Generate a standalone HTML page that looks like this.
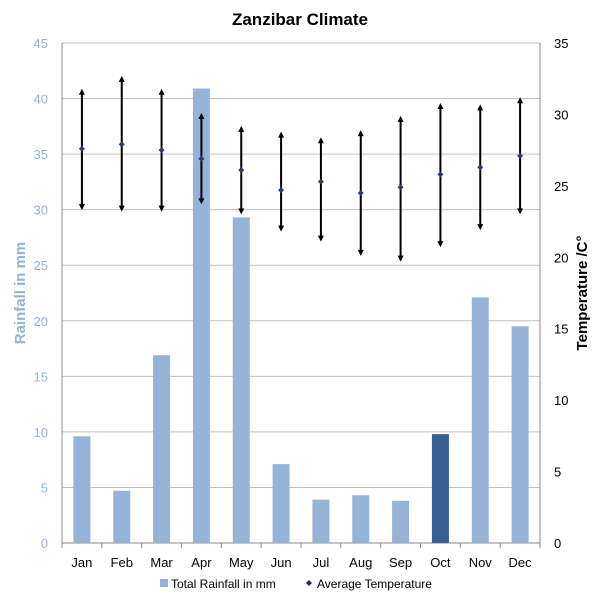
<!DOCTYPE html>
<html><head><meta charset="utf-8"><style>
body{margin:0;background:#fff;font-family:"Liberation Sans",sans-serif}
svg text{font-family:"Liberation Sans",sans-serif}
</style></head><body>
<svg id="c" width="600" height="600" viewBox="0 0 600 600">
<text x="300" y="25" text-anchor="middle" font-size="17" font-weight="bold">Zanzibar Climate</text>
<g id="grid"></g><g id="bars"></g><g id="temps"></g><g id="axes"></g>
<text transform="translate(25,293) rotate(-90)" text-anchor="middle" font-size="15" fill="#95b3d7" font-weight="bold">Rainfall in mm</text>
<text transform="translate(587,293) rotate(-90)" text-anchor="middle" font-size="15" font-weight="bold">Temperature /C°</text>
<g>
<rect x="160" y="579" width="8" height="8" fill="#95b3d7"/>
<text x="171" y="588" font-size="12">Total Rainfall in mm</text>
<path d="M309 580 L312 583 L309 586 L306 583Z" fill="#1f2a5a"/>
<text x="317" y="588" font-size="12">Average Temperature</text>
</g>
</svg>
<script>
const months=["Jan","Feb","Mar","Apr","May","Jun","Jul","Aug","Sep","Oct","Nov","Dec"];
const rainfall=[9.6,4.7,16.9,40.9,29.3,7.1,3.9,4.3,3.8,9.8,22.1,19.5];
const tempAvg=[27.6,27.9,27.5,26.9,26.1,24.7,25.3,24.5,24.9,25.8,26.3,27.1];
const tempMax=[31.8,32.7,31.8,30.1,29.2,28.8,28.4,28.9,29.9,30.8,30.7,31.2];
const tempMin=[23.3,23.2,23.2,23.7,23.0,21.8,21.1,20.1,19.7,20.7,21.9,23.0];
const leftTicks=[0,5,10,15,20,25,30,35,40,45];
const rightTicks=[0,5,10,15,20,25,30,35];
const NS="http://www.w3.org/2000/svg";
const X0=62,X1=540,Y0=543,Y1=43;
const bw=(X1-X0)/12;
const xc=i=>X0+bw*(i+0.5);
const yL=v=>Y0-(v/45)*(Y0-Y1);
const yR=v=>Y0-(v/35)*(Y0-Y1);
function mk(tag,attrs,parent){const e=document.createElementNS(NS,tag);for(const k in attrs)e.setAttribute(k,attrs[k]);document.getElementById(parent).appendChild(e);return e;}
leftTicks.forEach(t=>{
 const l=mk("line",{x1:X0,x2:X1,y1:yL(t),y2:yL(t),stroke:t===0?"#888":"#c0c0c0","stroke-width":1},"grid");
 
 
 const tx=mk("text",{x:X0-14,y:yL(t)+5,"text-anchor":"end","font-size":13,fill:"#95b3d7"},"axes");
 tx.textContent=t;
 
 
});
rightTicks.forEach(t=>{
 const tx=mk("text",{x:X1+14,y:yR(t)+5,"font-size":13},"axes");
 tx.textContent=t;
 
 
});
const la=mk("line",{x1:X0,x2:X0,y1:Y1,y2:Y0,stroke:"#888"},"axes");


const ra=mk("line",{x1:X1,x2:X1,y1:Y1,y2:Y0,stroke:"#888"},"axes");


for(let i=0;i<=12;i++){
 const tk=mk("line",{x1:X0+bw*i,x2:X0+bw*i,y1:Y0,y2:Y0+5,stroke:"#888"},"axes");
 
 
}
months.forEach((m,i)=>{
 const tx=mk("text",{x:xc(i),y:Y0+24,"text-anchor":"middle","font-size":13},"axes");
 tx.textContent=m;
 
 
 const b=mk("rect",{x:xc(i)-8.5,width:17,y:yL(rainfall[i]),height:Y0-yL(rainfall[i]),fill:m==="Oct"?"#376092":"#95b3d7"},"bars");
 
 
 const x=xc(i),ya=yR(tempMax[i]),yb=yR(tempMin[i]);
 const ln=mk("line",{x1:x,x2:x,y1:ya+3,y2:yb-3,stroke:"#000","stroke-width":2},"temps");
 
 
 const a1=mk("path",{d:`M${x-3} ${ya+6} L${x} ${ya} L${x+3} ${ya+6}Z`,fill:"#000"},"temps");
 
 
 const a2=mk("path",{d:`M${x-3} ${yb-6} L${x} ${yb} L${x+3} ${yb-6}Z`,fill:"#000"},"temps");
 
 
 const ya2=yR(tempAvg[i]);
 const p=mk("path",{d:`M${x} ${ya2-3} L${x+3} ${ya2} L${x} ${ya2+3} L${x-3} ${ya2}Z`,fill:"#2a3a6a"},"temps");
 
 
});
</script>
</body></html>
